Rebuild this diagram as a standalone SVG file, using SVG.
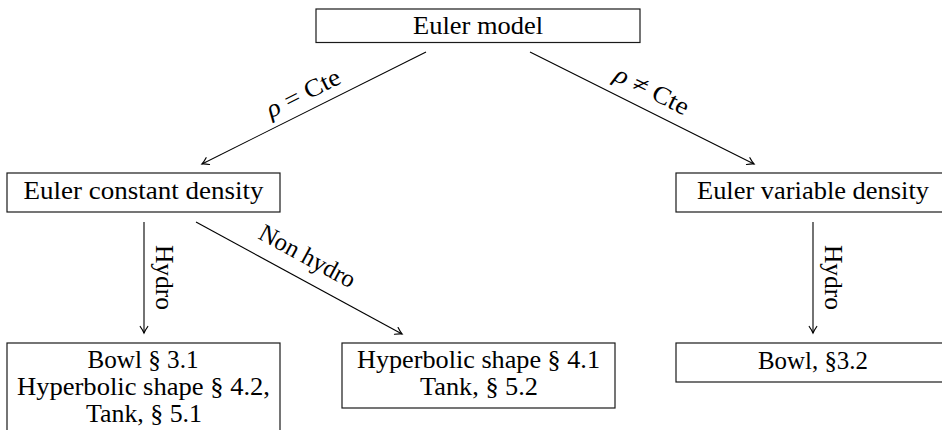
<svg xmlns="http://www.w3.org/2000/svg" width="942" height="430" viewBox="0 0 942 430">
  <style>
    .box { fill: #ffffff; stroke: #1a1a1a; stroke-width: 1.2; }
    .t { font-size: 25px; fill: #000; text-anchor: middle; }
    .edge { fill: none; stroke: #000; stroke-width: 1.1; marker-end: url(#ah); }
    .m { font-style: italic; }
  </style>
  <defs>
    <marker id="ah" viewBox="-8 -5 10 10" refX="0" refY="0" markerWidth="10" markerHeight="10" orient="auto" markerUnits="userSpaceOnUse">
      <path d="M-6.5,-3.8 Q-2.5,-1 0,0 Q-2.5,1 -6.5,3.8" fill="none" stroke="#000" stroke-width="1.2" stroke-linecap="round"/>
    </marker>
  </defs>
  <rect width="942" height="430" fill="#ffffff"/>

  <g id="connectors">
    <line class="edge" x1="426" y1="52" x2="202" y2="164"/>
    <line class="edge" x1="530" y1="52" x2="754" y2="164"/>
    <line class="edge" x1="144" y1="222" x2="144" y2="333"/>
    <line class="edge" x1="196" y1="222" x2="402" y2="334"/>
    <line class="edge" x1="813" y1="222" x2="813" y2="333"/>
    <g transform="translate(314,108) rotate(-26.57)">
      <text class="t" font-family="Liberation Serif, serif" x="-3" y="-10" textLength="80" lengthAdjust="spacingAndGlyphs"><tspan class="m">ρ</tspan> = Cte</text>
    </g>
    <g transform="translate(642,108) rotate(26.57)">
      <text class="t" font-family="Liberation Serif, serif" x="1" y="-12" textLength="80" lengthAdjust="spacingAndGlyphs"><tspan class="m">ρ</tspan> ≠ Cte</text>
    </g>
    <g transform="translate(299,278) rotate(28.53)">
      <text class="t" font-family="Liberation Serif, serif" x="-3" y="-15" textLength="106" lengthAdjust="spacingAndGlyphs">Non hydro</text>
    </g>
    <g transform="translate(155.5,277.5) rotate(90)">
      <text class="t" font-family="Liberation Serif, serif" x="0" y="0" textLength="65" lengthAdjust="spacingAndGlyphs">Hydro</text>
    </g>
    <g transform="translate(825,277.5) rotate(90)">
      <text class="t" font-family="Liberation Serif, serif" x="0" y="0" textLength="65" lengthAdjust="spacingAndGlyphs">Hydro</text>
    </g>
  </g>

  <g id="euler-model">
    <rect class="box" x="316" y="9" width="324" height="33.5"/>
    <text class="t" font-family="Liberation Serif, serif" x="478" y="34" textLength="130" lengthAdjust="spacingAndGlyphs">Euler model</text>
  </g>

  <g id="euler-constant-density">
    <rect class="box" x="7" y="173" width="273" height="39"/>
    <text class="t" font-family="Liberation Serif, serif" x="143.5" y="198.5" textLength="240" lengthAdjust="spacingAndGlyphs">Euler constant density</text>
  </g>

  <g id="euler-variable-density">
    <rect class="box" x="676" y="173" width="274" height="39"/>
    <text class="t" font-family="Liberation Serif, serif" x="813" y="198.5" textLength="232" lengthAdjust="spacingAndGlyphs">Euler variable density</text>
  </g>

  <g id="hydro-constant">
    <rect class="box" x="7" y="343" width="273" height="100"/>
    <text class="t" font-family="Liberation Serif, serif" x="143" y="368" textLength="111" lengthAdjust="spacingAndGlyphs">Bowl § 3.1</text>
    <text class="t" font-family="Liberation Serif, serif" x="143.5" y="395" textLength="253" lengthAdjust="spacingAndGlyphs">Hyperbolic shape § 4.2,</text>
    <text class="t" font-family="Liberation Serif, serif" x="144" y="422" textLength="116" lengthAdjust="spacingAndGlyphs">Tank, § 5.1</text>
  </g>

  <g id="nonhydro-constant">
    <rect class="box" x="342" y="343" width="273" height="65"/>
    <text class="t" font-family="Liberation Serif, serif" x="478.5" y="368" textLength="243" lengthAdjust="spacingAndGlyphs">Hyperbolic shape § 4.1</text>
    <text class="t" font-family="Liberation Serif, serif" x="479" y="395" textLength="118" lengthAdjust="spacingAndGlyphs">Tank, § 5.2</text>
  </g>

  <g id="hydro-variable">
    <rect class="box" x="676" y="343" width="274" height="39"/>
    <text class="t" font-family="Liberation Serif, serif" x="813" y="368.5" textLength="110" lengthAdjust="spacingAndGlyphs">Bowl, §3.2</text>
  </g>
</svg>
